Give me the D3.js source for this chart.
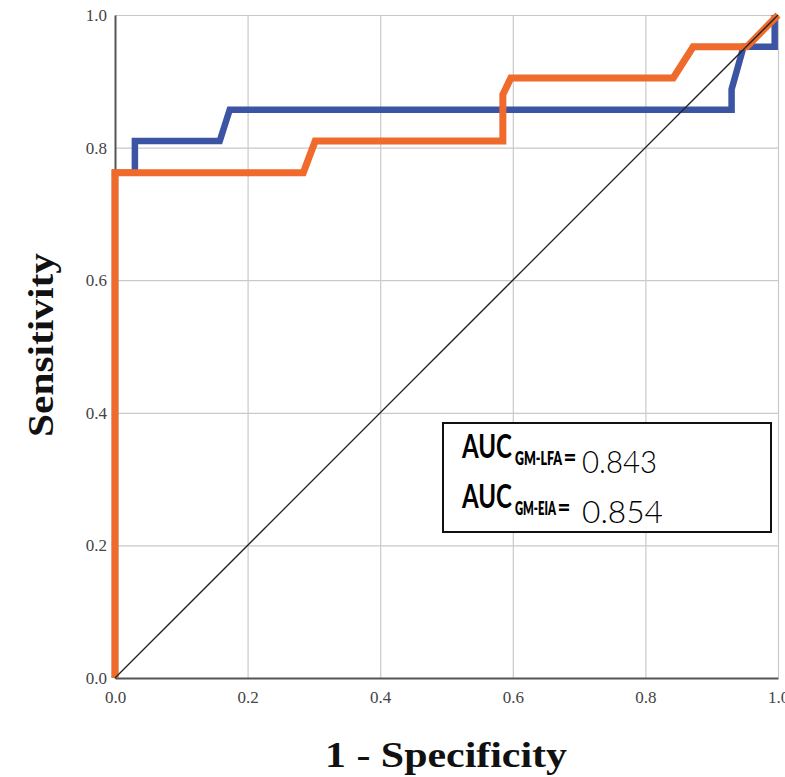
<!DOCTYPE html>
<html>
<head>
<meta charset="utf-8">
<script src="https://cdn.jsdelivr.net/npm/d3@7"></script>
<style>
  html, body { margin: 0; padding: 0; background: #fff; }
  svg { display: block; }
</style>
</head>
<body>
<svg id="chart" width="785" height="777"></svg>
<script>
// ---- data ----
const tickValues = [0, 0.2, 0.4, 0.6, 0.8, 1.0];
const tickLabels = ["0.0", "0.2", "0.4", "0.6", "0.8", "1.0"];
// GM-LFA (blue)
const fprLFA = [0, 0, 0.030, 0.030, 0.158, 0.173, 0.930, 0.930, 0.948, 0.995, 0.995];
const tprLFA = [0, 0.762, 0.762, 0.810, 0.810, 0.857, 0.857, 0.888, 0.952, 0.952, 1.0];
// GM-EIA (orange)
const fprEIA = [0, 0, 0.284, 0.302, 0.585, 0.585, 0.597, 0.842, 0.872, 0.953, 1.0];
const tprEIA = [0, 0.762, 0.762, 0.810, 0.810, 0.880, 0.905, 0.905, 0.952, 0.952, 1.0];
const refX = [0, 1];
const refY = [0, 1];
const seriesNames = ["GM-LFA", "GM-EIA"];
const aucValues = ["0.843", "0.854"];
const xTitle = "1 - Specificity";
const yTitle = "Sensitivity";

// ---- layout ----
const svg = d3.select("#chart");
const x = d3.scaleLinear().domain([0, 1]).range([115, 778]);
const y = d3.scaleLinear().domain([0, 1]).range([678, 15]);
const serif = "'Liberation Serif', 'Times New Roman', serif";
const sans = "Lato, 'Open Sans', sans-serif";

// gridlines
const gx = svg.append("g").attr("transform", `translate(0,${y(0)})`)
  .call(d3.axisBottom(x).tickValues(tickValues.slice(1)).tickSize(-(y(0) - y(1))).tickFormat(""));
gx.select(".domain").remove();
gx.selectAll("line").attr("stroke", "#c9c9c9").attr("stroke-width", 1.2);
const gy = svg.append("g").attr("transform", `translate(${x(0)},0)`)
  .call(d3.axisLeft(y).tickValues(tickValues.slice(1)).tickSize(-(x(1) - x(0))).tickFormat(""));
gy.select(".domain").remove();
gy.selectAll("line").attr("stroke", "#c9c9c9").attr("stroke-width", 1.2);

// axes with labels
const ax = svg.append("g").attr("transform", `translate(0,${y(0)})`)
  .call(d3.axisBottom(x).tickValues(tickValues).tickSize(0).tickPadding(13)
    .tickFormat((d, i) => tickLabels[i]));
ax.select(".domain").attr("stroke", "#555").attr("stroke-width", 2);
ax.selectAll("text").attr("font-family", serif).attr("font-size", 17).attr("fill", "#444");

const ay = svg.append("g").attr("transform", `translate(${x(0)},0)`)
  .call(d3.axisLeft(y).tickValues(tickValues).tickSize(0).tickPadding(8)
    .tickFormat((d, i) => tickLabels[i]));
ay.select(".domain").attr("stroke", "#555").attr("stroke-width", 2);
ay.selectAll("text").attr("font-family", serif).attr("font-size", 17).attr("fill", "#444");

// curves
const line = d3.line().x(d => x(d[0])).y(d => y(d[1]));
const lfa = fprLFA.map((f, i) => [f, tprLFA[i]]);
const eia = fprEIA.map((f, i) => [f, tprEIA[i]]);
svg.append("path").datum(lfa).attr("d", line)
  .attr("fill", "none").attr("stroke", "#3b54a3").attr("stroke-width", 6.5)
  .attr("stroke-linejoin", "miter");
svg.append("path").datum(eia).attr("d", line)
  .attr("fill", "none").attr("stroke", "#ef6a2b").attr("stroke-width", 7)
  .attr("stroke-linejoin", "miter");
svg.append("path").datum(refX.map((f, i) => [f, refY[i]])).attr("d", line)
  .attr("fill", "none").attr("stroke", "#222").attr("stroke-width", 1.3);

// axis titles
svg.append("text").attr("x", 446).attr("y", 767).attr("text-anchor", "middle")
  .attr("font-family", serif).attr("font-weight", "bold").attr("font-size", 36)
  .attr("fill", "#111").attr("textLength", 242).attr("lengthAdjust", "spacingAndGlyphs")
  .text(xTitle);
svg.append("text").attr("transform", "translate(53,345) rotate(-90)").attr("text-anchor", "middle")
  .attr("font-family", serif).attr("font-weight", "bold").attr("font-size", 36)
  .attr("fill", "#111").attr("textLength", 184).attr("lengthAdjust", "spacingAndGlyphs")
  .text(yTitle);

// legend box
svg.append("rect").attr("x", 443).attr("y", 423).attr("width", 328).attr("height", 109)
  .attr("fill", "#fff").attr("stroke", "#111").attr("stroke-width", 2);

// helper: place a text piece so that it spans a target width (horizontal scale)
function piece(g, str, px, py, size, weight, width) {
  const t = g.append("text").attr("font-size", size).attr("font-weight", weight).text(str);
  const natural = t.node().getComputedTextLength();
  t.attr("transform", `translate(${px},${py}) scale(${width / natural},1)`);
  return t;
}
seriesNames.forEach((name, i) => {
  const b = 458 + i * 50;
  const g = svg.append("g").attr("fill", "#000").attr("font-family", sans);
  piece(g, "AUC", 462, b, 32, 700, 50);
  const subW = i === 0 ? 47 : 41;
  piece(g, name, 515, b + 7, 19, 800, subW);
  piece(g, "=", 515 + subW + 1.5, b + 8, 24, 900, 13);
  piece(g, aucValues[i], 582, b + 15, 32, 300, i === 0 ? 75 : 81);
});
</script>
</body>
</html>
